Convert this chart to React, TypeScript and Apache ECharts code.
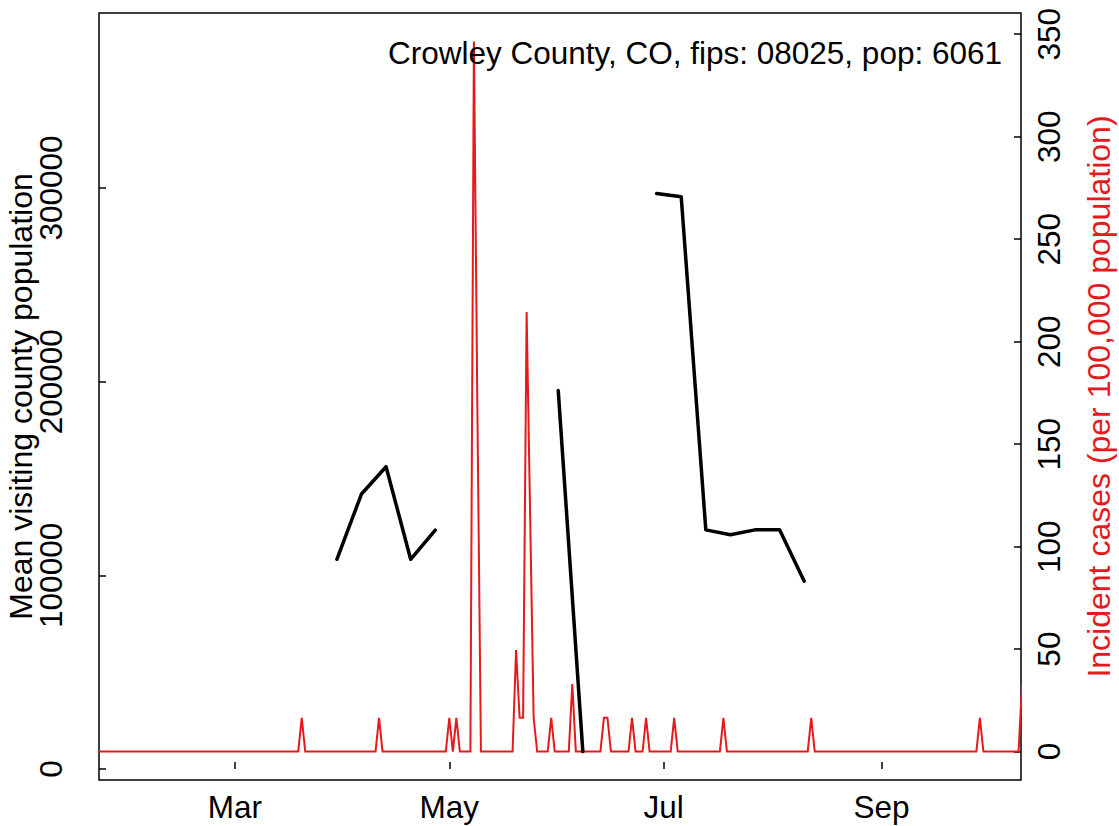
import React, { useEffect, useRef } from 'react';
import * as echarts from 'echarts';

// ---- text ----
const titleText = 'Crowley County, CO, fips: 08025, pop: 6061';
const leftAxisName = 'Mean visiting county population';
const rightAxisName = 'Incident cases (per 100,000 population)';

// ---- x axis ticks ----
const monthTickDates = ['2020-03-01', '2020-05-01', '2020-07-01', '2020-09-01'];
const monthTickLabels = ['Mar', 'May', 'Jul', 'Sep'];

// ---- left axis ticks ----
const leftTicks = [0, 100000, 200000, 300000];
// ---- right axis ticks ----
const rightTicks = [0, 50, 100, 150, 200, 250, 300, 350];

// ---- black series: weekly mean visiting county population (null = missing) ----
const visitDates = [
  '2020-03-30', '2020-04-06', '2020-04-13', '2020-04-20', '2020-04-27',
  '2020-05-04', '2020-05-11', '2020-05-18', '2020-05-25',
  '2020-06-01', '2020-06-08', '2020-06-15', '2020-06-22',
  '2020-06-29', '2020-07-06', '2020-07-13', '2020-07-20', '2020-07-27',
  '2020-08-03', '2020-08-10',
];
const visitValues: (number | null)[] = [
  108300, 142000, 156100, 108300, 123400,
  null, null, null, null,
  195400, 9000, null, null,
  297200, 295500, 123500, 121000, 123500,
  123500, 97000,
];

// ---- red series: daily incident cases per 100k; days not listed read as 0 ----
const caseFirstDay = '2020-01-21';
const caseLastDay = '2020-10-12';
const caseDates = [
  '2020-03-20', '2020-04-11', '2020-05-01', '2020-05-03', '2020-05-08',
  '2020-05-09', '2020-05-20', '2020-05-21', '2020-05-22', '2020-05-23',
  '2020-05-24', '2020-05-25', '2020-05-30', '2020-06-05', '2020-06-14',
  '2020-06-15', '2020-06-22', '2020-06-26', '2020-07-04', '2020-07-18',
  '2020-08-12', '2020-09-29', '2020-10-11',
];
const caseValues = [
  16.5, 16.5, 16.5, 16.5, 346.5,
  165, 49.5, 16.5, 16.5, 214.5,
  115.5, 16.5, 16.5, 33, 16.5,
  16.5, 16.5, 16.5, 16.5, 16.5,
  16.5, 16.5, 33,
];

const FONT = 'Liberation Sans, Arial, Helvetica, sans-serif';
const RED = '#E41A1C';
const DAY = 86400000;

function ts(s: string): number {
  const [y, m, d] = s.split('-').map(Number);
  return Date.UTC(y, m - 1, d);
}

export default function App() {
  const ref = useRef<HTMLDivElement>(null);

  useEffect(() => {
    const chart = echarts.init(ref.current!, null, { renderer: 'svg' });

    const tickTs = monthTickDates.map(ts);

    const visitData = visitDates.map((d, i) => [ts(d), visitValues[i] === null ? '-' : visitValues[i]]);

    const caseMap = new Map<number, number>();
    caseDates.forEach((d, i) => caseMap.set(ts(d), caseValues[i]));
    const caseData: [number, number][] = [];
    const end = ts(caseLastDay);
    for (let t = ts(caseFirstDay); t <= end; t += DAY) {
      caseData.push([t, caseMap.get(t) ?? 0]);
    }

    const xMin = ts('2020-01-22') + 0.3 * DAY;
    const xMax = ts('2020-10-10') + 0.7 * DAY;

    const tickText = { fontFamily: FONT, fontSize: 31.5, color: '#000' };
    const nameText = { fontFamily: FONT, fontSize: 32, color: '#000' };

    const option: any = {
      animation: false,
      backgroundColor: '#fff',
      title: {
        text: titleText,
        right: 117,
        top: 37,
        padding: 0,
        textStyle: { ...nameText, fontSize: 31.5, fontWeight: 'normal' },
      },
      grid: {
        left: 99,
        right: 98,
        top: 13,
        bottom: 46,
        show: true,
        borderColor: '#000',
        borderWidth: 1.5,
        backgroundColor: 'transparent',
        containLabel: false,
        outerBoundsMode: 'none',
      },
      xAxis: {
        type: 'value',
        min: xMin,
        max: xMax,
        axisLine: { show: false },
        splitLine: { show: false },
        axisTick: {
          show: true,
          inside: true,
          length: 7,
          lineStyle: { color: '#000', width: 1.5 },
          customValues: tickTs,
        },
        axisLabel: {
          ...tickText,
          margin: 11,
          customValues: tickTs,
          formatter: (v: number) => {
            const i = tickTs.indexOf(v);
            return i >= 0 ? monthTickLabels[i] : '';
          },
        },
      },
      yAxis: [
        {
          type: 'value',
          position: 'left',
          min: -5680,
          max: 390400,
          axisLine: { show: false },
          splitLine: { show: false },
          axisTick: {
            show: true,
            inside: true,
            length: 7,
            lineStyle: { color: '#000', width: 1.5 },
            customValues: leftTicks,
          },
          axisLabel: {
            ...tickText,
            rotate: 90,
            margin: 32,
            customValues: leftTicks,
            formatter: (v: number) => String(v),
          },
          name: leftAxisName,
          nameLocation: 'middle',
          nameRotate: 90,
          nameGap: 62,
          nameMoveOverlap: false,
          nameTextStyle: { ...nameText },
        },
        {
          type: 'value',
          position: 'right',
          min: -13.86,
          max: 360.36,
          axisLine: { show: false },
          splitLine: { show: false },
          axisTick: {
            show: true,
            inside: true,
            length: 7,
            lineStyle: { color: '#000', width: 1.5 },
            customValues: rightTicks,
          },
          axisLabel: {
            ...tickText,
            rotate: 90,
            margin: 12,
            customValues: rightTicks,
            formatter: (v: number) => String(v),
          },
          name: rightAxisName,
          nameLocation: 'middle',
          nameRotate: 90,
          nameGap: 62,
          nameMoveOverlap: false,
          nameTextStyle: { ...nameText, color: RED },
        },
      ],
      series: [
        {
          type: 'line',
          name: 'cases',
          yAxisIndex: 1,
          data: caseData,
          showSymbol: false,
          symbol: 'none',
          clip: true,
          lineStyle: { color: RED, width: 2, join: 'miter' },
          z: 2,
        },
        {
          type: 'line',
          name: 'visitors',
          yAxisIndex: 0,
          data: visitData,
          showSymbol: false,
          symbol: 'none',
          connectNulls: false,
          clip: true,
          lineStyle: { color: '#000', width: 3.5, cap: 'round', join: 'round' },
          z: 3,
        },
      ],
    };

    chart.setOption(option);
    return () => chart.dispose();
  }, []);

  return (
    <div
      ref={ref}
      style={{ position: 'absolute', left: 0, top: 0, width: 1119, height: 826 }}
    />
  );
}
